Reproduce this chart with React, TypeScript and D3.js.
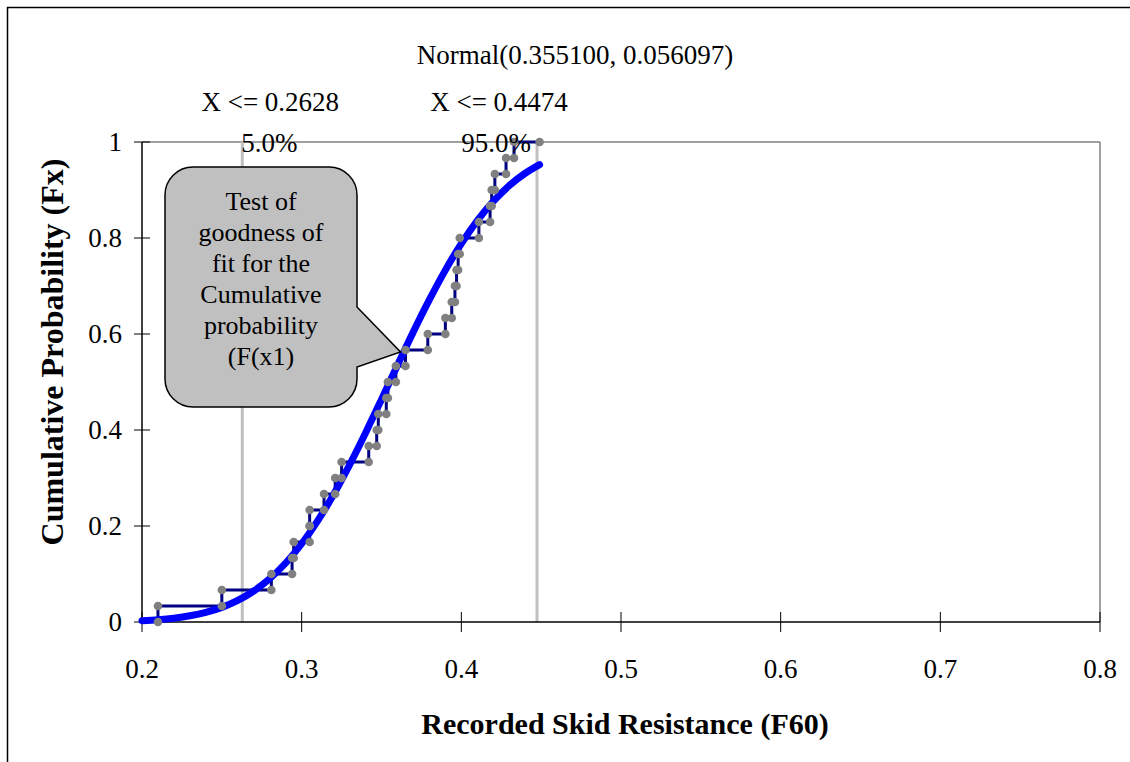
import React from "react";
import * as d3 from "d3";

const width = 1130;
const height = 762;
const margin = { top: 142, right: 30, bottom: 140, left: 142 };

// sorted sample values (recorded F60), n = 30
const samples = [
  0.21, 0.25, 0.281, 0.294, 0.295, 0.305, 0.305, 0.314, 0.321, 0.325,
  0.342, 0.347, 0.348, 0.353, 0.354, 0.359, 0.365, 0.379, 0.39, 0.394,
  0.396, 0.397, 0.398, 0.399, 0.411, 0.418, 0.419, 0.421, 0.428, 0.433
];
const sampleMax = 0.449;

// fitted Normal(0.3551, 0.056097)
const fitX = [0.2, 0.21, 0.22, 0.23, 0.24, 0.25, 0.26, 0.27, 0.28, 0.29, 0.3, 0.31, 0.32, 0.33, 0.34, 0.35, 0.36, 0.37, 0.38, 0.39, 0.4, 0.41, 0.42, 0.43, 0.44, 0.449];
const fitF = [0.0028, 0.0048, 0.008, 0.0129, 0.0201, 0.0305, 0.045, 0.0646, 0.0903, 0.1229, 0.163, 0.2107, 0.2657, 0.3274, 0.3939, 0.4637, 0.5348, 0.6049, 0.6714, 0.7331, 0.7882, 0.8362, 0.8763, 0.9091, 0.9349, 0.9529];

const markers = [0.2628, 0.4474];
const markerLabels = ["X <= 0.2628", "X <= 0.4474"];
const markerPct = ["5.0%", "95.0%"];

const xTicks = [0.2, 0.3, 0.4, 0.5, 0.6, 0.7, 0.8];
const yTicks = [0, 0.2, 0.4, 0.6, 0.8, 1];

const calloutLines = ["Test of", "goodness of", "fit for the", "Cumulative", "probability", "(F(x1)"];

const serif = "Liberation Serif, Times New Roman, DejaVu Serif, serif";

export default function App() {
  const x = d3.scaleLinear().domain([0.2, 0.8]).range([margin.left, width - margin.right]);
  const y = d3.scaleLinear().domain([0, 1]).range([height - margin.bottom, margin.top]);
  const [x0, x1] = x.range();
  const [yb, yt] = y.range();
  const n = samples.length;

  const stepPts: [number, number][] = [];
  samples.forEach((v, i) => {
    stepPts.push([v, i / n]);
    stepPts.push([v, (i + 1) / n]);
  });
  stepPts.push([sampleMax, 1]);

  const stepLine = d3.line<[number, number]>().x(d => x(d[0])).y(d => y(d[1]));
  const fitLine = d3
    .line<number>()
    .x(d => x(d))
    .y((d, i) => y(fitF[i]))
    .curve(d3.curveMonotoneX);

  // callout shape
  const bx0 = 165, by0 = 167, bx1 = 357, by1 = 407, r = 28;
  const tipX = x(0.3619), tipY = y(0.5625);
  const callout = `M${bx0 + r},${by0} H${bx1 - r} A${r},${r} 0 0 1 ${bx1},${by0 + r} V307 L${tipX},${tipY} L${bx1},367 V${by1 - r} A${r},${r} 0 0 1 ${bx1 - r},${by1} H${bx0 + r} A${r},${r} 0 0 1 ${bx0},${by1 - r} V${by0 + r} A${r},${r} 0 0 1 ${bx0 + r},${by0} Z`;

  const txt = { fontFamily: serif, fill: "#000" };

  return (
    <svg width={width} height={height} style={{ position: "absolute", left: 0, top: 0, background: "#fff" }}>
      <rect x={7.5} y={7.5} width={1300} height={900} fill="#fff" stroke="#000" strokeWidth={1.5} />

      {/* plot frame */}
      <line x1={x0} x2={x1} y1={yt} y2={yt} stroke="#808080" strokeWidth={1.5} />
      <line x1={x1} x2={x1} y1={yt} y2={yb} stroke="#808080" strokeWidth={1.5} />

      {/* percentile lines */}
      {markers.map(m => (
        <line key={m} x1={x(m)} x2={x(m)} y1={yt} y2={yb} stroke="#c0c0c0" strokeWidth={3} />
      ))}

      {/* axes */}
      <line x1={x0} x2={x1} y1={yb} y2={yb} stroke="#000" strokeWidth={1.5} />
      <line x1={x0} x2={x0} y1={yt} y2={yb} stroke="#000" strokeWidth={1.5} />
      {xTicks.map(t => (
        <g key={t}>
          <line x1={x(t)} x2={x(t)} y1={yb - 10} y2={yb + 10} stroke="#000" strokeWidth={1} />
          <text style={txt} x={x(t)} y={678} fontSize={27} textAnchor="middle">{t}</text>
        </g>
      ))}
      {yTicks.map(t => (
        <g key={t}>
          <line x1={x0 - 8} x2={x0 + 8} y1={y(t)} y2={y(t)} stroke="#000" strokeWidth={1} />
          <text style={txt} x={122} y={y(t) + 9} fontSize={27} textAnchor="end">{t}</text>
        </g>
      ))}

      {/* empirical steps */}
      <path d={stepLine(stepPts) || ""} fill="none" stroke="#000080" strokeWidth={3} />
      {/* fitted curve */}
      <path d={fitLine(fitX) || ""} fill="none" stroke="#0000ff" strokeWidth={7} strokeLinecap="round" />
      {stepPts.map((p, i) => (
        <circle key={i} cx={x(p[0])} cy={y(p[1])} r={4.3} fill="#808080" />
      ))}

      {/* labels */}
      <text style={txt} x={575} y={64} fontSize={27} textAnchor="middle">Normal(0.355100, 0.056097)</text>
      {markers.map((m, i) => (
        <g key={m}>
          <text style={txt} x={x(m) + (i === 0 ? 28 : -38)} y={111} fontSize={27} textAnchor="middle">{markerLabels[i]}</text>
          <text style={txt} x={x(m) + (i === 0 ? 27 : -41)} y={152} fontSize={27} textAnchor="middle">{markerPct[i]}</text>
        </g>
      ))}

      {/* callout */}
      <path d={callout} fill="#c0c0c0" stroke="#000" strokeWidth={1.5} />
      {calloutLines.map((l, i) => (
        <text style={txt} key={l} x={(bx0 + bx1) / 2} y={210 + i * 31} fontSize={26} textAnchor="middle">{l}</text>
      ))}

      {/* axis titles */}
      <text style={txt} x={625} y={734} fontSize={30} fontWeight="bold" textAnchor="middle">Recorded Skid Resistance (F60)</text>
      <text style={txt} transform="translate(63,352) rotate(-90)" fontSize={32} fontWeight="bold" textAnchor="middle">Cumulative Probability (Fx)</text>
    </svg>
  );
}
